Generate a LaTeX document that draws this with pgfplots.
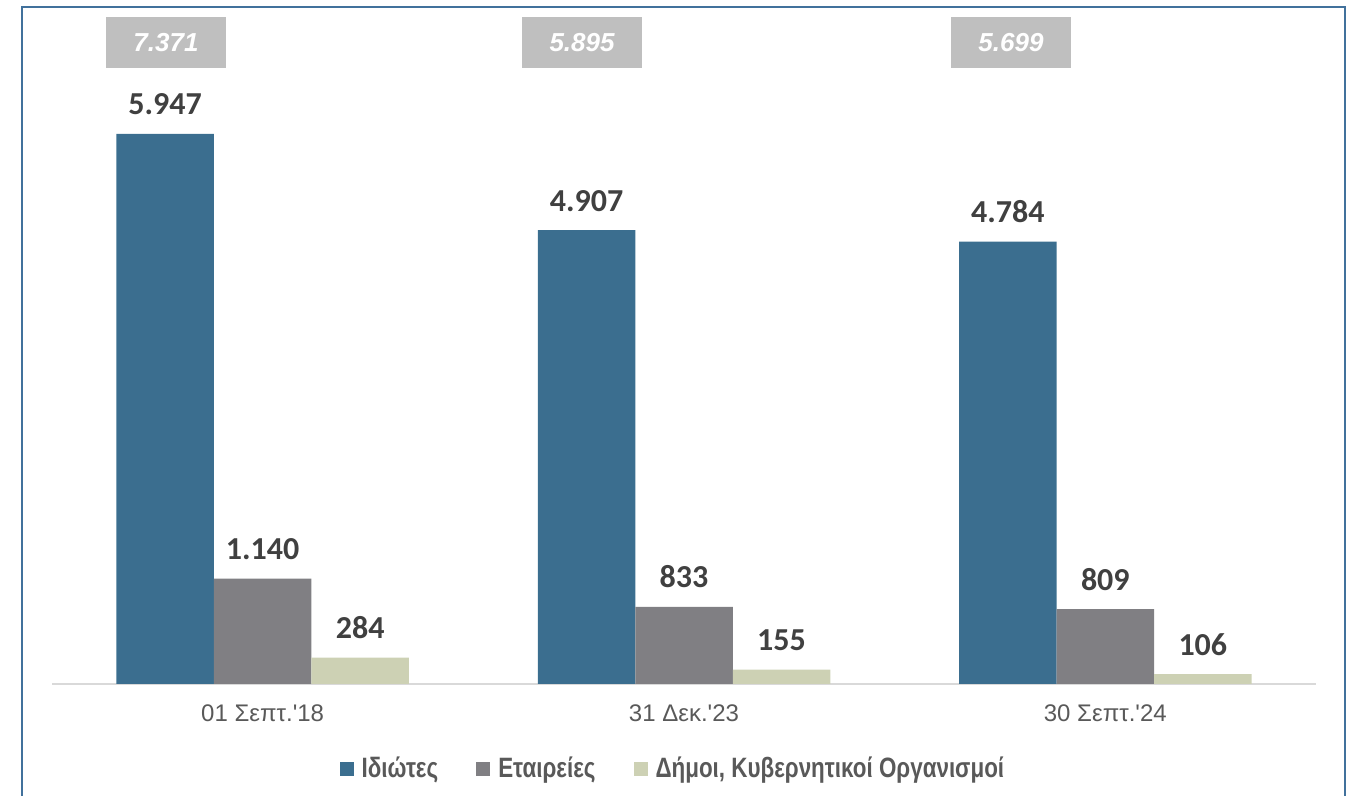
\documentclass[border=0pt]{standalone}
\usepackage{pgfplots}
\pgfplotsset{compat=1.18}
\usepackage{fontspec}
\setmainfont{Liberation Sans}[Ligatures=TeXOff]
\newfontfamily\carlito{Carlito}
\newfontfamily\narrowfont{Liberation Sans Bold}[FakeStretch=0.8]
\definecolor{cblue}{RGB}{59,110,143}
\definecolor{cgray}{RGB}{128,127,131}
\definecolor{cbeige}{RGB}{205,209,180}
\definecolor{boxgray}{RGB}{191,191,191}
\definecolor{labc}{RGB}{64,64,64}
\definecolor{tickc}{RGB}{89,89,89}
\definecolor{framec}{RGB}{65,113,156}
\begin{document}
\begin{tikzpicture}
\useasboundingbox (-26pt,-56pt) rectangle (648pt,342pt);
\begin{axis}[
  at={(0pt,0pt)}, anchor=south west,
  scale only axis,
  width=632pt, height=338.5pt,
  xmin=-0.5, xmax=2.5, ymin=0, ymax=7320,
  ybar=0pt, bar width=48.75pt,
  axis y line=none,
  axis x line*=bottom,
  axis line style={draw=black!15, line width=1pt, -},
  xtick={0,1,2},
  xticklabels={01 Σεπτ.'18, 31 Δεκ.'23, 30 Σεπτ.'24},
  major tick length=0pt,
  xticklabel style={anchor=base, yshift=-18.85pt, inner sep=0pt, font=\fontsize{12}{14}\selectfont, text=tickc},
  clip=false,
  /pgf/number format/assume math mode=true,
  /pgf/number format/1000 sep={.},
  nodes near coords,
  every node near coord/.append style={anchor=base, yshift=9.5pt, inner sep=0pt, font=\carlito\bfseries\fontsize{16}{18}\selectfont, text=labc},
  legend columns=3,
  legend style={draw=none, fill=none, at={(0.492,-0.125)}, anchor=center,
    font=\narrowfont\fontsize{14}{16}\selectfont, text=tickc,
    column sep=2pt,
    /tikz/every even column/.append style={column sep=17pt}},
]
\addplot[fill=cblue, draw=none, legend image code/.code={\fill[cblue] (0pt,-3.5pt) rectangle (7pt,3.5pt);}] coordinates {(0,5947) (1,4907) (2,4784)};
\addplot[fill=cgray, draw=none, legend image code/.code={\fill[cgray] (0pt,-3.5pt) rectangle (7pt,3.5pt);}] coordinates {(0,1140) (1,833) (2,809)};
\addplot[fill=cbeige, draw=none, legend image code/.code={\fill[cbeige] (0pt,-3.5pt) rectangle (7pt,3.5pt);}] coordinates {(0,284) (1,155) (2,106)};
\legend{Ιδιώτες, Εταιρείες, {Δήμοι, Κυβερνητικοί Οργανισμοί}}
\foreach \xx/\tt in {-0.2294/7.371, 0.758/5.895, 1.776/5.699}{
  \edef\tmp{\noexpand\node[fill=boxgray, minimum width=60pt, minimum height=25.5pt, inner sep=0pt, text=white, font=\noexpand\bfseries\noexpand\itshape\noexpand\fontsize{13}{15}\noexpand\selectfont] at (axis cs:\xx,6936) {\tt};}
  \tmp
}
\end{axis}
\draw[framec, line width=1pt] (-15pt,-60pt) -- (-15pt,338.5pt) -- (646.5pt,338.5pt) -- (646.5pt,-60pt);
\end{tikzpicture}
\end{document}
